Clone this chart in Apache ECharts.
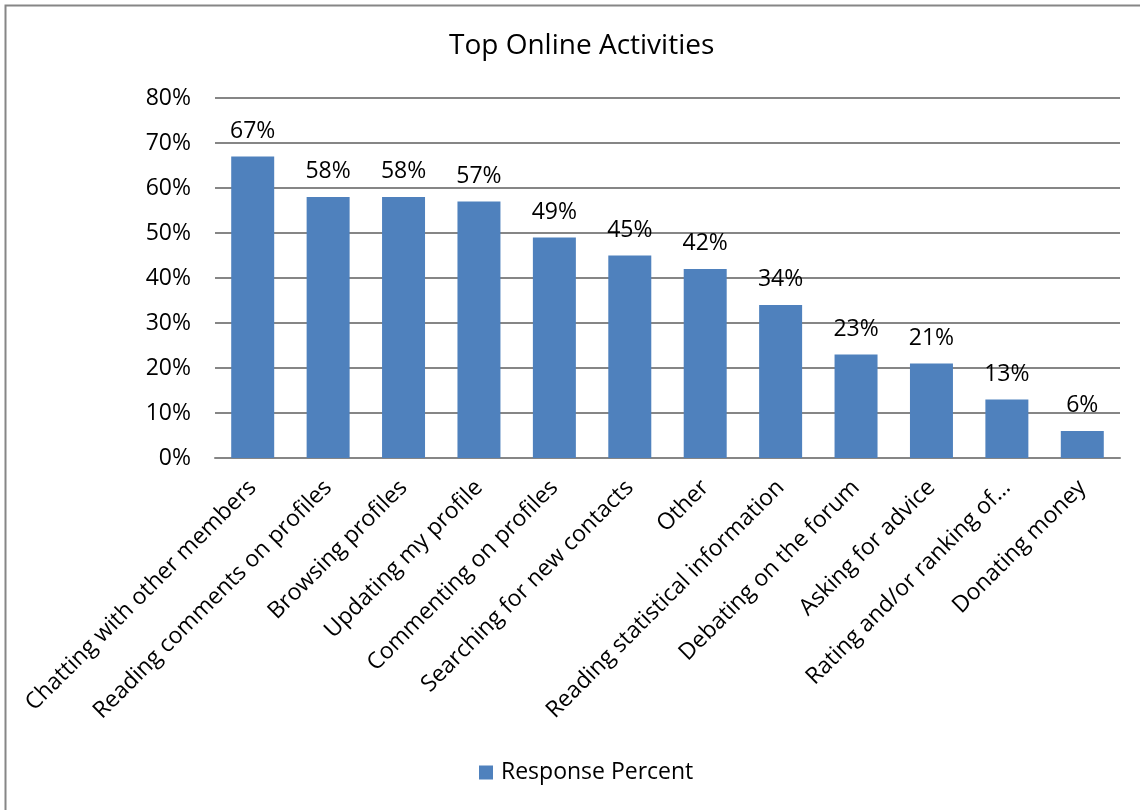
<!DOCTYPE html>
<html>
<head>
<meta charset="utf-8">
<script src="https://cdn.jsdelivr.net/npm/echarts@6/dist/echarts.min.js"></script>
<style>
  html, body { margin: 0; padding: 0; background: #fff; }
  #chart { width: 1140px; height: 810px; }
</style>
</head>
<body>
<div id="chart"></div>
<script>
// Survey: share of respondents doing each activity online
const categories = [
  'Chatting with other members',
  'Reading comments on profiles',
  'Browsing profiles',
  'Updating my profile',
  'Commenting on profiles',
  'Searching for new contacts',
  'Other',
  'Reading statistical information',
  'Debating on the forum',
  'Asking for advice',
  'Rating and/or ranking of\u2026',
  'Donating money'
];
const responsePercent = [67, 58, 58, 57, 49, 45, 42, 34, 23, 21, 13, 6];
const seriesName = 'Response Percent';
const chartTitle = 'Top Online Activities';

const FONT = '"Open Sans", "Noto Sans", sans-serif';
const chart = echarts.init(document.getElementById('chart'), null, { renderer: 'canvas' });

chart.setOption({
  animation: false,
  backgroundColor: '#ffffff',
  textStyle: { fontFamily: FONT, color: '#000' },
  graphic: [{
    type: 'rect',
    shape: { x: 5.5, y: 5.5, width: 1160, height: 830 },
    style: { fill: 'none', stroke: '#868686', lineWidth: 2 },
    silent: true,
    z: -10
  }],
  title: {
    text: chartTitle,
    left: 444,
    top: 27,
    textStyle: { fontFamily: FONT, fontSize: 28, fontWeight: 'normal', color: '#000' }
  },
  legend: {
    data: [seriesName],
    bottom: 21,
    left: 474,
    icon: 'rect',
    itemWidth: 14,
    itemHeight: 14,
    itemGap: 8,
    textStyle: { fontFamily: FONT, fontSize: 23, color: '#000', padding: [0, 0, 0, 3] }
  },
  grid: { left: 215, right: 20, top: 98, bottom: 352, containLabel: false },
  xAxis: {
    type: 'category',
    data: categories,
    axisLine: { show: true, lineStyle: { color: '#868686', width: 2 } },
    axisTick: { show: false },
    axisLabel: {
      interval: 0,
      rotate: 45,
      margin: 26,
      fontFamily: FONT,
      fontSize: 23,
      color: '#000'
    }
  },
  yAxis: {
    type: 'value',
    min: 0,
    max: 80,
    interval: 10,
    axisLine: { show: false },
    axisTick: { show: false },
    splitLine: { show: true, lineStyle: { color: '#868686', width: 2 } },
    axisLabel: {
      formatter: '{value}%',
      margin: 24,
      fontFamily: FONT,
      fontSize: 23,
      color: '#000'
    }
  },
  series: [{
    name: seriesName,
    type: 'bar',
    data: responsePercent,
    barCategoryGap: '43%',
    itemStyle: { color: '#4F81BD' },
    label: {
      show: true,
      position: 'top',
      distance: 14,
      formatter: '{c}%',
      fontFamily: FONT,
      fontSize: 23,
      color: '#000'
    }
  }]
});
</script>
</body>
</html>
